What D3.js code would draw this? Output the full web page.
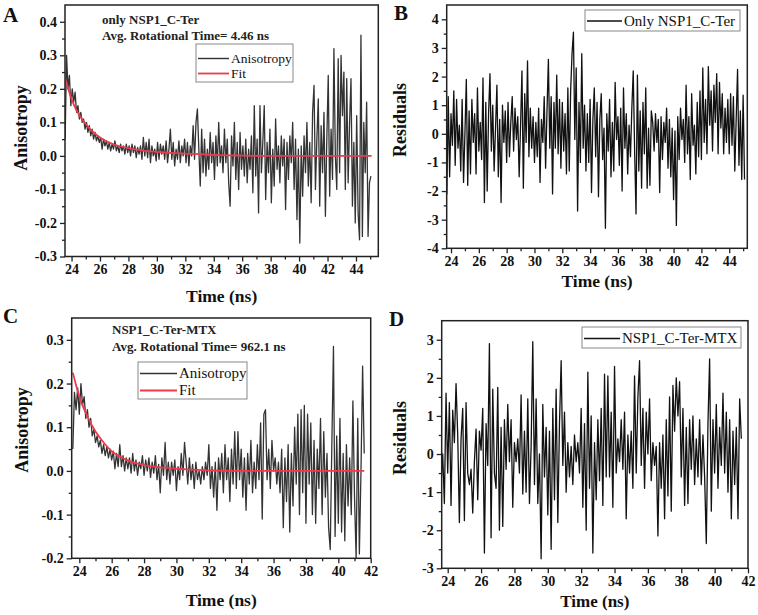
<!DOCTYPE html>
<html><head><meta charset="utf-8">
<script src="https://cdn.jsdelivr.net/npm/d3@7"></script>
<style>body{margin:0;background:#fff}svg{display:block}</style>
</head><body><svg id="c" width="758" height="615"></svg>
<script>
// ---------- DATA ----------
const sampleStep = 0.1; // ns between samples
const anisoStartA = 23.55;
const anisoA = [0.05,0.30,0.20,0.24,0.15,0.20,0.16,0.19,0.13,0.15,0.11,0.13,0.10,0.11,0.08,0.10,0.07,0.09,0.06,0.08,
0.05,0.07,0.045,0.06,0.04,0.055,0.02,0.05,0.03,0.045,0.02,0.04,0.015,0.035,0.02,0.045,0.015,0.03,0.01,0.035,
0.015,0.03,0.005,0.035,0.01,0.03,0.0,0.035,0.01,0.03,-0.005,0.025,0.005,0.03,-0.01,0.055,0.0,0.04,-0.005,0.05,
-0.02,0.03,0.0,0.02,-0.015,0.04,-0.01,0.035,0.005,0.03,-0.01,0.045,-0.02,0.02,0.08,-0.01,0.04,-0.03,0.02,-0.01,
0.045,-0.02,0.03,0.0,0.05,-0.02,0.04,-0.03,0.03,0.0,0.09,-0.01,0.10,0.14,0.02,-0.09,0.08,-0.05,0.05,-0.06,
0.02,-0.04,0.07,-0.02,0.04,-0.07,0.06,-0.03,0.10,-0.02,0.03,-0.05,0.08,-0.02,0.05,-0.08,-0.15,0.06,-0.03,0.10,
-0.07,0.04,-0.10,0.07,-0.04,0.03,-0.06,0.05,-0.08,0.02,-0.04,0.06,-0.11,0.15,-0.06,0.05,-0.17,0.15,-0.05,0.04,
0.15,-0.13,0.04,-0.05,0.08,-0.14,0.02,-0.09,0.11,-0.04,0.03,-0.08,0.06,-0.03,0.05,-0.16,0.04,-0.07,0.06,-0.02,
0.10,-0.10,0.05,-0.19,0.02,-0.26,0.03,-0.12,0.06,-0.05,0.10,-0.09,0.04,-0.14,0.13,0.21,-0.10,0.05,0.17,-0.15,
0.09,-0.05,0.13,-0.18,0.05,0.24,-0.12,0.08,-0.07,0.32,0.0,-0.10,0.29,-0.05,0.30,0.12,0.25,-0.10,0.23,-0.08,
0.10,0.23,-0.15,0.04,-0.20,0.12,-0.17,-0.25,0.36,-0.24,0.10,-0.05,0.16,-0.24,-0.08,-0.06];
const fitTimeA = [23.6,23.8,24,24.3,24.6,25,25.5,26,26.5,27,28,29,30,31,32,33,34,36,38,45.1];
const fitA = [0.225,0.195,0.17,0.14,0.118,0.095,0.072,0.055,0.043,0.034,0.023,0.016,0.012,0.009,0.007,0.005,0.003,0.001,0.0,0.0];

const residStartB = 23.6;
const residB = [-0.3,-2.1,1.3,-1.5,0.7,-0.4,1.5,-1.1,1.2,-0.5,0.3,-1.3,1.2,-1.7,0.0,1.9,-1.8,0.8,-1.4,1.2,
-0.3,0.7,-1.4,1.6,-0.6,0.4,-0.9,1.95,-2.4,1.1,-2.0,0.7,2.1,-0.6,1.0,-1.3,0.2,1.7,-1.5,0.5,
-2.4,1.0,-0.3,0.8,-1.0,1.1,-0.8,0.4,1.3,-0.6,0.9,-0.2,0.6,-1.5,0.3,2.2,-1.9,1.4,-0.3,2.55,
-0.8,0.9,-0.5,0.6,-1.0,0.4,-0.8,0.9,-1.7,0.5,-0.3,1.3,-1.2,0.8,2.6,-0.5,1.3,-2.1,1.1,-0.5,
2.05,-0.7,1.2,-1.2,1.1,-0.6,0.7,-1.4,1.6,-1.3,1.5,2.8,3.55,-0.2,2.3,-2.7,1.1,-1.0,2.8,-0.5,
1.0,-1.3,0.7,-1.0,1.2,-2.05,0.5,1.6,-0.8,1.1,-2.2,0.5,1.4,-0.9,0.2,-3.3,0.7,-0.6,1.2,-1.5,
0.4,-1.3,1.8,-0.2,0.6,-1.1,0.9,-2.0,1.6,-0.5,0.7,-1.4,0.3,-0.8,0.9,2.2,-0.6,-2.8,2.05,-1.3,
0.8,-1.9,1.1,-0.7,1.6,-1.9,0.2,-1.8,0.8,0.4,-0.6,0.7,-0.3,0.5,-2.05,0.6,-0.9,0.4,-0.3,0.9,
-1.2,0.5,-1.5,0.2,-2.3,0.1,-3.2,0.6,-0.9,0.9,-0.2,0.5,-1.0,1.7,-0.7,0.6,-1.6,1.4,-0.4,0.3,
-1.4,1.1,-0.8,1.5,-0.9,2.3,-0.3,1.2,-0.7,2.35,0.3,1.5,-0.6,1.7,0.4,2.1,-0.7,1.8,0.2,1.4,
-0.7,0.9,-0.3,1.2,-0.7,1.4,-0.4,1.3,-1.3,0.5,2.25,-1.1,0.8,-1.6,1.35,-1.6];

const anisoStartC = 23.6;
const anisoC = [0.05,0.18,0.14,0.19,0.13,0.20,0.15,0.17,0.12,0.14,0.10,0.12,0.08,0.095,0.065,0.08,0.055,0.07,0.04,0.06,
0.035,0.055,0.03,0.05,0.025,0.045,0.005,0.04,0.01,0.06,0.01,0.035,0.0,0.03,0.005,0.03,-0.005,0.04,0.0,0.025,
-0.01,0.02,0.005,0.035,-0.01,0.025,0.0,0.03,-0.015,0.02,-0.005,0.035,-0.02,0.015,-0.05,0.03,-0.01,0.065,-0.02,0.02,
-0.03,0.02,-0.01,0.025,-0.045,0.01,-0.02,0.04,-0.01,0.065,0.02,-0.03,0.03,-0.02,0.015,-0.04,0.02,-0.02,0.0,-0.03,
0.01,-0.02,0.02,-0.01,0.06,-0.04,0.01,-0.06,0.02,-0.09,0.03,-0.02,0.04,-0.05,0.06,-0.02,0.03,-0.07,0.05,-0.03,
0.09,-0.04,0.09,-0.02,0.05,-0.06,0.03,-0.09,0.04,-0.03,0.07,-0.05,0.02,-0.04,0.06,-0.02,0.11,-0.11,0.13,0.14,
-0.02,0.05,-0.04,0.07,0.0,0.03,-0.03,0.02,-0.05,0.05,-0.13,0.03,-0.07,0.06,-0.14,0.04,-0.08,0.10,-0.03,0.13,
-0.10,0.14,-0.05,0.15,-0.12,0.13,-0.03,0.11,-0.10,0.07,-0.12,0.05,-0.04,0.12,-0.10,0.09,-0.06,0.04,-0.13,-0.18,
0.06,0.285,-0.15,0.08,-0.12,0.12,-0.14,0.04,-0.16,0.06,-0.08,0.03,-0.10,0.16,-0.06,-0.20,0.12,-0.19,0.0,0.24,0.04];
const fitTimeC = [23.6,24,24.5,25,25.5,26,26.5,27,28,29,30,31,32,34,41.6];
const fitC = [0.225,0.17,0.125,0.09,0.065,0.045,0.033,0.024,0.013,0.008,0.005,0.003,0.001,0.0,0.0];

const residStartD = 23.6;
const residD = [-0.8,0.0,-1.3,1.6,-0.5,1.35,-1.35,1.15,0.3,1.85,0.5,-1.8,0.4,1.2,-1.75,1.35,-0.5,-0.8,-0.4,-1.55,
-0.2,0.65,-1.2,0.6,0.1,1.2,-2.6,0.8,-0.3,2.9,-2.2,1.7,-0.5,-0.9,1.75,-2.0,0.7,-1.9,0.9,-0.4,
1.3,-0.2,0.9,-1.4,0.3,-0.2,0.4,-0.5,1.55,-1.05,0.6,-1.0,1.45,-1.3,0.2,2.95,-0.8,1.45,-1.3,0.0,
-2.75,1.3,-0.6,0.7,-1.6,0.6,-2.5,1.2,-1.2,1.7,-1.8,0.8,2.45,-0.3,1.1,-1.0,0.3,-0.6,0.2,-0.8,
0.5,-0.2,0.3,-0.5,1.2,-1.4,0.8,-2.0,2.15,-0.9,1.0,-2.6,0.3,-1.2,0.9,-0.7,1.2,-1.35,2.1,-0.6,
2.05,-0.6,1.1,-1.4,2.3,-0.5,0.4,-0.2,0.9,-0.4,1.1,-1.7,0.5,-0.5,0.6,-0.9,2.05,-0.5,1.5,2.45,
-0.3,1.2,-0.9,1.1,0.0,1.45,-0.7,0.3,-0.3,0.2,-2.15,0.3,-0.9,0.5,-1.7,0.9,-1.1,1.5,-1.5,1.8,
0.6,2.0,1.0,1.9,-0.6,1.2,-1.35,0.7,-1.3,0.9,-0.4,1.0,-0.8,0.4,-0.6,0.9,-0.8,0.5,-0.6,-2.35,
0.8,2.5,-1.5,0.9,-0.5,1.3,-0.9,0.7,-0.3,1.6,-0.5,1.1,-1.0,0.9,-1.7,0.6,-0.8,0.7,-1.7,1.45,0.4];

const xTicksAB = [24,26,28,30,32,34,36,38,40,42,44];
const xTicksCD = [24,26,28,30,32,34,36,38,40,42];
const yTicksA = [-0.3,-0.2,-0.1,0.0,0.1,0.2,0.3,0.4];
const yTicksB = [-4,-3,-2,-1,0,1,2,3,4];
const yTicksC = [-0.2,-0.1,0.0,0.1,0.2,0.3];
const yTicksD = [-3,-2,-1,0,1,2,3];

// ---------- DRAW ----------
const svg = d3.select('#c');
const SERIF = '"Liberation Serif","Times New Roman",serif';
const RED = '#ee3a4c';
let clipId = 0;

function series(start, vals){ return vals.map((v,i)=>({t:+(start+i*sampleStep).toFixed(3), v})); }

function panel(o){
  const x = d3.scaleLinear().domain(o.xd).range([o.l,o.r]);
  const y = d3.scaleLinear().domain(o.yd).range([o.b,o.t]);
  const g = svg.append('g');
  const cid = 'clip'+(clipId++);
  g.append('clipPath').attr('id',cid).append('rect')
    .attr('x',o.l).attr('y',o.t).attr('width',o.r-o.l).attr('height',o.b-o.t);
  const line = d3.line().x(d=>x(d.t)).y(d=>y(d.v));
  const pg = g.append('g').attr('clip-path',`url(#${cid})`);
  pg.append('path').datum(o.data).attr('d',line).attr('fill','none')
    .attr('stroke',o.color).attr('stroke-width',1.3).attr('stroke-linejoin','round');
  if(o.fit){
    const fl = d3.line().x(d=>x(d.t)).y(d=>y(d.v)).curve(d3.curveMonotoneX);
    pg.append('path').datum(o.fit).attr('d',fl).attr('fill','none')
      .attr('stroke',RED).attr('stroke-width',1.8);
  }
  // minor ticks
  const xMin = d3.range(Math.ceil(o.xd[0]), Math.floor(o.xd[1])+1).filter(v=>v%2!==0);
  g.append('g').attr('transform',`translate(0,${o.b})`)
    .call(d3.axisBottom(x).tickValues(xMin).tickSize(3).tickFormat(''))
    .call(a=>a.select('.domain').remove());
  const yMin = o.yTicks.slice(0,-1).map((v,i)=>(v+o.yTicks[i+1])/2);
  g.append('g').attr('transform',`translate(${o.l},0)`)
    .call(d3.axisLeft(y).tickValues(yMin).tickSize(3).tickFormat(''))
    .call(a=>a.select('.domain').remove());
  // major ticks
  const xa = g.append('g').attr('transform',`translate(0,${o.b})`)
    .call(d3.axisBottom(x).tickValues(o.xTicks).tickSize(5).tickPadding(3).tickFormat(d=>d));
  xa.select('.domain').remove();
  const ya = g.append('g').attr('transform',`translate(${o.l},0)`)
    .call(d3.axisLeft(y).tickValues(o.yTicks).tickSize(5).tickPadding(3).tickFormat(o.yFmt));
  ya.select('.domain').remove();
  g.selectAll('.tick line').attr('stroke','#222').attr('stroke-width',1.3);
  g.selectAll('.tick text').attr('font-family',SERIF).attr('font-weight','bold')
    .attr('font-size',14).attr('fill','#111');
  // frame
  g.append('rect').attr('x',o.l).attr('y',o.t).attr('width',o.r-o.l).attr('height',o.b-o.t)
    .attr('fill','none').attr('stroke','#222').attr('stroke-width',1.5);
  // titles
  g.append('text').attr('x',(o.l+o.r)/2 + (o.xtDx||0)).attr('y',o.xtY).attr('text-anchor','middle')
    .attr('font-family',SERIF).attr('font-weight','bold').attr('font-size',o.xtFs||17.5).attr('fill','#111')
    .text('Time (ns)');
  g.append('text').attr('transform',`translate(${o.ytX},${o.ytY}) rotate(-90)`).attr('text-anchor','middle')
    .attr('font-family',SERIF).attr('font-weight','bold').attr('font-size',18).attr('fill','#111')
    .text(o.ylabel);
  g.append('text').attr('x',o.letter[1]).attr('y',o.letter[2])
    .attr('font-family',SERIF).attr('font-weight','bold').attr('font-size',21).attr('fill','#111')
    .text(o.letter[0]);
  // annotations
  (o.notes||[]).forEach(n=>{
    g.append('text').attr('x',n.x).attr('y',n.y).attr('font-family',SERIF).attr('font-weight','bold')
      .attr('font-size',13).attr('fill','#222').text(n.text);
  });
  // legend
  const L = o.legend;
  g.append('rect').attr('x',L.x).attr('y',L.y).attr('width',L.w).attr('height',L.h)
    .attr('fill','#fff').attr('stroke','#888').attr('stroke-width',1);
  L.items.forEach(it=>{
    g.append('line').attr('x1',L.x+2).attr('x2',L.x+2+L.lw).attr('y1',it.y-4.5).attr('y2',it.y-4.5)
      .attr('stroke',it.color).attr('stroke-width',it.color===RED?1.8:1.4);
    g.append('text').attr('x',L.x+4+L.lw).attr('y',it.y).attr('font-family',SERIF)
      .attr('font-size',L.fs).attr('fill','#111').text(it.label);
  });
}

const f1 = d=>d.toFixed(1);
const f0 = d=>String(d);

panel({l:65,r:378.3,t:5,b:256.5,xd:[23.54,45.57],yd:[-0.3,0.45],xTicks:xTicksAB,yTicks:yTicksA,yFmt:f1,
  data:series(anisoStartA,anisoA),fit:fitTimeA.map((t,i)=>({t,v:fitA[i]})),color:'#333',
  ylabel:'Anisotropy',ytX:27,ytY:128,xtY:302,letter:['A',3,22],
  notes:[{x:102,y:24,text:'only NSP1_C-Ter'},{x:102,y:40,text:'Avg. Rotational Time= 4.46 ns'}],
  legend:{x:196,y:44,w:97,h:38,lw:31,fs:13.5,items:[{y:63,label:'Anisotropy',color:'#333'},{y:78,label:'Fit',color:RED}]}});

panel({l:446.7,r:747.3,t:5,b:248.3,xd:[23.69,45.3],yd:[-4,4.5],xTicks:xTicksAB,yTicks:yTicksB,yFmt:f0,
  data:series(residStartB,residB),color:'#111',
  ylabel:'Residuals',ytX:406,ytY:120,xtY:287,letter:['B',394,20],
  legend:{x:585,y:10,w:155,h:21,lw:35,fs:15,items:[{y:25.5,label:'Only NSP1_C-Ter',color:'#111'}]}});

panel({l:71.7,r:370.7,t:318,b:558.3,xd:[23.53,42],yd:[-0.2,0.35],xTicks:xTicksCD,yTicks:yTicksC,yFmt:f1,
  data:series(anisoStartC,anisoC),fit:fitTimeC.map((t,i)=>({t,v:fitC[i]})),color:'#333',
  ylabel:'Anisotropy',ytX:28,ytY:430,xtY:606,letter:['C',3,323],
  notes:[{x:112,y:334,text:'NSP1_C-Ter-MTX'},{x:112,y:351,text:'Avg. Rotational Time= 962.1 ns'}],
  legend:{x:138,y:362,w:109,h:37,lw:37,fs:15,items:[{y:378,label:'Anisotropy',color:'#333'},{y:395,label:'Fit',color:RED}]}});

panel({l:441.7,r:748,t:320.7,b:568.3,xd:[23.64,42],yd:[-3,3.5],xTicks:xTicksCD,yTicks:yTicksD,yFmt:f0,
  data:series(residStartD,residD),color:'#111',
  ylabel:'Residuals',ytX:406,ytY:438,xtY:607,xtFs:17,letter:['D',389,326],
  legend:{x:582,y:327,w:159,h:21,lw:36,fs:15,items:[{y:343,label:'NSP1_C-Ter-MTX',color:'#111'}]}});
</script></body></html>
